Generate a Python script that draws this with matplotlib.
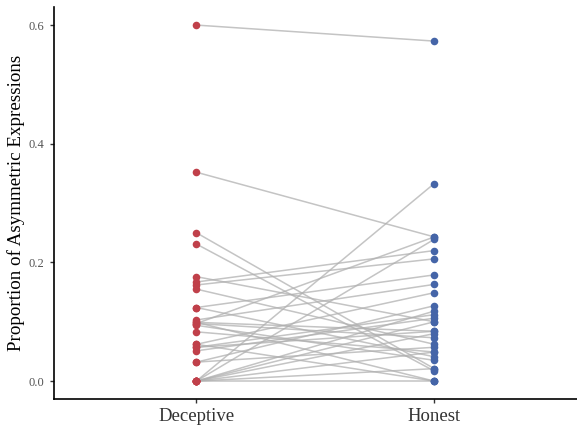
import numpy as np
import matplotlib
matplotlib.use("Agg")
import matplotlib.pyplot as plt

# paired proportions, one entry per participant
deceptive = [0.600, 0.352, 0.250, 0.231, 0.176, 0.167, 0.162, 0.155,
             0.124, 0.124, 0.103, 0.099, 0.097, 0.094, 0.083, 0.062,
             0.057, 0.051, 0.032, 0.032, 0.000, 0.000, 0.000, 0.000,
             0.000, 0.000, 0.000, 0.097, 0.062, 0.057, 0.099, 0.000]
honest = [0.573, 0.243, 0.021, 0.017, 0.100, 0.220, 0.206, 0.062,
          0.179, 0.041, 0.163, 0.084, 0.073, 0.035, 0.049, 0.149,
          0.112, 0.106, 0.127, 0.057, 0.333, 0.239, 0.118, 0.100,
          0.080, 0.000, 0.049, 0.243, 0.000, 0.084, 0.000, 0.021]
conditions = ["Deceptive", "Honest"]

red = "#C0404A"
blue = "#4565A8"

plt.rcParams['font.family'] = ['Liberation Serif', 'DejaVu Serif']

fig = plt.figure(figsize=(5.77, 4.28), dpi=100)
ax = fig.add_axes([0.093, 0.068, 0.907, 0.915])

xd = np.ones(len(deceptive))
xh = np.full(len(honest), 2.0)
for d, h in zip(deceptive, honest):
    ax.plot([1, 2], [d, h], color="#b0b0b0", lw=1.1, alpha=0.75, zorder=1)
ax.scatter(xd, deceptive, s=30, color=red, zorder=3, linewidths=0)
ax.scatter(xh, honest, s=30, color=blue, zorder=3, linewidths=0)

ax.set_xlim(0.4, 2.6)
ax.set_ylim(-0.03, 0.63)
ax.set_xticks([1, 2])
ax.set_xticklabels(conditions, fontsize=13.5, color="#333333")
ax.set_yticks([0.0, 0.2, 0.4, 0.6])
ax.set_yticklabels(["0.0", "0.2", "0.4", "0.6"], fontsize=9, color="#555555")
ax.set_ylabel("Proportion of Asymmetric Expressions", fontsize=13.7, labelpad=3)

for s in ["top", "right"]:
    ax.spines[s].set_visible(False)
for s in ["left", "bottom"]:
    ax.spines[s].set_linewidth(1.2)
ax.tick_params(length=3, width=1, color="#333333")

fig.savefig("out.png", dpi=100)
